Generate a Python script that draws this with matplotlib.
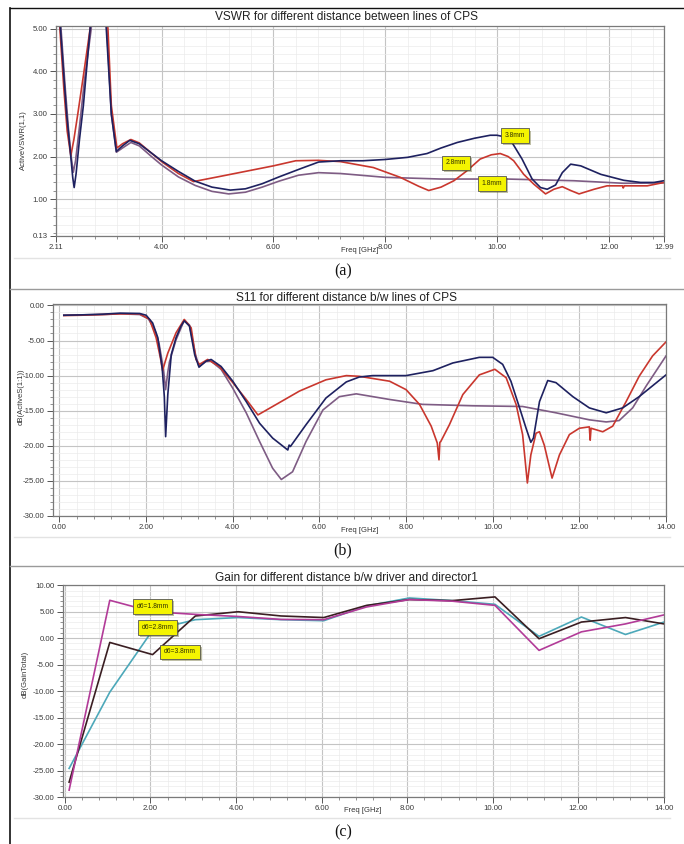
import numpy as np
import matplotlib
matplotlib.use("Agg")
import matplotlib.pyplot as plt
from matplotlib.ticker import MultipleLocator, FixedLocator
from matplotlib.lines import Line2D
import matplotlib.patheffects as pe

plt.rcParams['font.family'] = ['Liberation Sans', 'DejaVu Sans']

# ---- (a) VSWR  (values above 5 are clipped by the axis)
vswr_f_38 = [2.11, 2.19, 2.25, 2.30, 2.36, 2.41, 2.435, 2.47, 2.53, 2.60, 2.66, 2.72, 2.85, 3.01,
             3.10, 3.19, 3.30, 3.43, 3.60, 3.80, 4.00, 4.30, 4.60, 4.90, 5.23, 5.50, 5.80, 6.10,
             6.50, 6.81, 7.20, 7.60, 8.00, 8.40, 8.75, 9.00, 9.29, 9.60, 9.88, 10.00, 10.15,
             10.27, 10.45, 10.63, 10.78, 10.90, 11.05, 11.17, 11.32, 11.50, 11.86, 12.27, 12.57,
             12.81, 12.99]
vswr_38 = [7.0, 5.0, 3.9, 3.0, 2.2, 1.5, 1.27, 1.6, 2.4, 3.2, 4.1, 5.0, 8.0, 5.0,
           3.0, 2.12, 2.25, 2.38, 2.30, 2.10, 1.90, 1.65, 1.42, 1.28, 1.21, 1.24, 1.36, 1.52,
           1.72, 1.87, 1.90, 1.90, 1.93, 1.98, 2.07, 2.20, 2.33, 2.43, 2.50, 2.50, 2.46,
           2.33, 1.94, 1.47, 1.27, 1.23, 1.33, 1.62, 1.82, 1.78, 1.58, 1.44, 1.39,
           1.39, 1.43]

vswr_f_28 = [2.11, 2.18, 2.25, 2.31, 2.375, 2.43, 2.50, 2.60, 2.72, 2.85, 3.04, 3.10, 3.20, 3.30,
             3.45, 3.60, 3.80, 4.00, 4.30, 4.57, 5.00, 5.50, 6.00, 6.40, 6.80, 7.20, 7.79, 8.27,
             8.60, 8.78, 9.00, 9.23, 9.45, 9.70, 9.90, 10.06, 10.20, 10.30, 10.48, 10.66, 10.87,
             11.02, 11.17, 11.32, 11.47, 11.74, 11.97, 12.25, 12.26, 12.28, 12.69, 12.99]
vswr_28 = [7.0, 5.0, 3.6, 2.6, 2.02, 2.4, 3.0, 3.9, 5.0, 8.0, 5.0, 3.2, 2.2, 2.3,
           2.40, 2.32, 2.10, 1.88, 1.60, 1.41, 1.52, 1.65, 1.78, 1.90, 1.91, 1.88, 1.74, 1.51,
           1.30, 1.20, 1.28, 1.43, 1.65, 1.94, 2.04, 2.07, 2.00, 1.90, 1.58, 1.35, 1.12,
           1.23, 1.29, 1.20, 1.12, 1.23, 1.31, 1.31, 1.26, 1.31, 1.31, 1.39]

vswr_f_18 = [2.11, 2.20, 2.27, 2.33, 2.38, 2.42, 2.46, 2.53, 2.62, 2.74, 2.85, 3.02, 3.10, 3.19,
             3.30, 3.45, 3.60, 3.80, 4.00, 4.30, 4.60, 4.90, 5.20, 5.50, 5.80, 6.10, 6.45, 6.81,
             7.20, 8.00, 9.00, 10.18, 11.38, 12.27, 12.99]
vswr_18 = [7.0, 5.0, 3.7, 2.7, 2.0, 1.63, 1.9, 2.7, 3.8, 5.0, 8.0, 5.0, 3.0, 2.1,
           2.2, 2.33, 2.25, 2.02, 1.80, 1.52, 1.32, 1.18, 1.12, 1.16, 1.28, 1.42, 1.56, 1.62,
           1.60, 1.51, 1.47, 1.47, 1.43, 1.37, 1.38]

# ---- (b) S11 [dB]
s11_f_38 = [0.1, 0.5, 1.0, 1.4, 1.85, 2.0, 2.15, 2.27, 2.37, 2.42, 2.45, 2.5, 2.58, 2.69, 2.8,
            2.88, 3.0, 3.12, 3.22, 3.38, 3.5, 3.73, 4.0, 4.31, 4.62, 4.92, 5.27, 5.3, 5.33, 5.69,
            6.15, 6.62, 6.92, 7.23, 8.0, 8.62, 9.08, 9.69, 10.0, 10.23, 10.42, 10.62, 10.77,
            10.88, 10.94, 11.08, 11.27, 11.46, 11.85, 12.23, 12.62, 13.0, 13.38, 14.0]
s11_38 = [-1.4, -1.35, -1.25, -1.1, -1.15, -1.4, -2.5, -4.6, -8.9, -13.0, -18.7, -12.7, -7.0,
          -4.6, -3.0, -2.2, -2.95, -7.0, -8.8, -7.95, -7.7, -8.7, -10.8, -13.7, -16.8, -18.9,
          -20.6, -19.9, -20.1, -17.0, -13.2, -10.9, -10.2, -10.0, -10.0, -9.3, -8.2, -7.4,
          -7.4, -8.4, -10.8, -14.6, -17.5, -19.5, -18.9, -13.7, -10.7, -11.0, -13.0, -14.6,
          -15.3, -14.6, -13.0, -9.9]

s11_f_28 = [0.1, 0.5, 1.0, 1.4, 1.85, 2.08, 2.23, 2.33, 2.38, 2.44, 2.5, 2.69, 2.88, 3.04, 3.15,
            3.23, 3.42, 3.69, 4.0, 4.31, 4.58, 4.92, 5.54, 6.15, 6.62, 6.92, 7.62, 8.0, 8.31,
            8.58, 8.72, 8.76, 8.78, 8.8, 9.0, 9.31, 9.69, 10.05, 10.31, 10.54, 10.69, 10.8,
            10.88, 11.0, 11.08, 11.19, 11.37, 11.54, 11.77, 12.0, 12.23, 12.25, 12.27, 12.54,
            12.77, 13.08, 13.38, 13.69, 14.0]
s11_28 = [-1.45, -1.4, -1.3, -1.2, -1.2, -2.0, -4.6, -7.5, -9.3, -8.0, -6.8, -3.9, -2.0, -3.2,
          -7.7, -8.4, -7.7, -8.7, -11.0, -13.4, -15.6, -14.4, -12.2, -10.6, -10.0, -10.1,
          -10.8, -12.0, -14.1, -17.2, -19.6, -22.0, -19.5, -19.4, -17.0, -12.7, -9.9, -9.1,
          -10.3, -14.1, -18.4, -25.3, -21.3, -18.2, -18.0, -19.9, -24.6, -21.3, -18.4, -17.5,
          -17.3, -19.2, -17.5, -18.0, -17.2, -13.7, -10.1, -7.2, -5.2]

s11_f_18 = [0.1, 0.5, 1.0, 1.4, 1.85, 2.05, 2.2, 2.3, 2.4, 2.45, 2.5, 2.54, 2.69, 2.88, 3.0,
            3.14, 3.22, 3.38, 3.5, 3.73, 4.0, 4.31, 4.62, 4.92, 5.12, 5.38, 5.69, 6.08, 6.46,
            6.85, 7.62, 8.38, 9.54, 10.69, 11.46, 12.23, 12.62, 12.92, 13.23, 13.54, 14.0]
s11_18 = [-1.4, -1.35, -1.3, -1.2, -1.3, -1.9, -3.5, -5.5, -9.1, -12.0, -9.5, -8.0, -4.9, -2.1,
          -2.8, -7.0, -8.7, -8.0, -7.95, -9.1, -11.8, -15.3, -19.4, -23.2, -24.8, -23.7, -19.4,
          -14.9, -13.0, -12.6, -13.4, -14.1, -14.3, -14.4, -15.3, -16.3, -16.6, -16.4, -14.6,
          -11.5, -7.2]

# ---- (c) Gain [dB]
gain_f = [0.1, 1.05, 2.05, 3.05, 4.05, 5.05, 6.05, 7.05, 8.05, 9.05, 10.05, 11.08, 12.07, 13.1, 14.0]
gain_18 = [-28.7, 7.16, 5.0, 4.5, 4.1, 3.55, 3.5, 5.9, 7.3, 7.0, 6.2, -2.3, 1.2, 2.7, 4.4]
gain_28 = [-24.6, -10.2, 1.5, 3.5, 3.9, 3.5, 3.3, 6.1, 7.6, 7.1, 6.4, 0.35, 4.0, 0.7, 3.05]
gain_38 = [-27.2, -0.8, -3.1, 4.2, 5.0, 4.2, 3.9, 6.2, 7.3, 7.1, 7.8, -0.1, 3.05, 3.9, 2.7]

NAVY = '#1e2160'
RED = '#c9372e'
MAUVE = '#7e5c84'
MAG = '#b23b98'
CYAN = '#4ca8b9'
DARK = '#3a1e22'

W, H = 684, 844
fig = plt.figure(figsize=(W / 100, H / 100), dpi=100)
fig.patch.set_facecolor('white')


def px_axes(l, t, r, b):
    return fig.add_axes([l / W, 1 - b / H, (r - l) / W, (b - t) / H])


def style(ax, xmaj, xmin, ymaj, ymin):
    ax.xaxis.set_major_locator(xmaj)
    ax.xaxis.set_minor_locator(xmin)
    ax.yaxis.set_major_locator(ymaj)
    ax.yaxis.set_minor_locator(ymin)
    ax.xaxis.set_major_formatter(lambda v, p: '%.2f' % v)
    ax.yaxis.set_major_formatter(lambda v, p: '%.2f' % v)
    ax.grid(which='major', color='#c4c4c4', lw=0.8)
    ax.grid(which='minor', color='#ebebeb', lw=0.5)
    ax.set_axisbelow(True)
    for s in ax.spines.values():
        s.set_color('#7a7a7a')
        s.set_linewidth(0.9)
    ax.tick_params(which='major', direction='out', length=4, width=0.7, color='#555555',
                   labelsize=5.6, labelcolor='#3a3a3a', pad=2)
    ax.tick_params(which='minor', direction='out', length=2, width=0.5, color='#666666')
    ax.tick_params(top=False, right=False)


def tag(ax, x, y, s, fs=4.9):
    t = ax.text(x, y, s, fontsize=fs, color='#333300', ha='center', va='center', zorder=5,
                bbox=dict(boxstyle='square,pad=0.55', fc='#f4f400', ec='#555555', lw=0.6))
    t.get_bbox_patch().set_path_effects([pe.SimplePatchShadow(offset=(1.5, -1.5), alpha=0.35),
                                         pe.Normal()])


# ---------------- (a)
ax1 = px_axes(56, 26, 664, 236)
ax1.plot(vswr_f_18, vswr_18, color=MAUVE, lw=1.2)
ax1.plot(vswr_f_28, vswr_28, color=RED, lw=1.2)
ax1.plot(vswr_f_38, vswr_38, color=NAVY, lw=1.2)
ax1.set_xlim(2.11, 12.99)
ax1.set_ylim(0.13, 5.07)
style(ax1, FixedLocator([2.11, 4, 6, 8, 10, 12, 12.99]), MultipleLocator(0.4),
      FixedLocator([0.13, 1, 2, 3, 4, 5]), MultipleLocator(0.2))
tag(ax1, 10.33, 2.49, '3.8mm')
tag(ax1, 9.27, 1.85, '2.8mm')
tag(ax1, 9.91, 1.37, '1.8mm')

# ---------------- (b)
ax2 = px_axes(53, 304, 666, 516)
ax2.plot(s11_f_18, s11_18, color=MAUVE, lw=1.2)
ax2.plot(s11_f_28, s11_28, color=RED, lw=1.2)
ax2.plot(s11_f_38, s11_38, color=NAVY, lw=1.2)
ax2.set_xlim(-0.15, 14.0)
ax2.set_ylim(-30, 0.2)
style(ax2, MultipleLocator(2), MultipleLocator(0.4), MultipleLocator(5), MultipleLocator(1))

# ---------------- (c)
ax3 = px_axes(62.7, 585, 664, 797)
ax3.plot(gain_f, gain_28, color=CYAN, lw=1.2)
ax3.plot(gain_f, gain_38, color=DARK, lw=1.2)
ax3.plot(gain_f, gain_18, color=MAG, lw=1.2)
ax3.set_xlim(-0.05, 14.0)
ax3.set_ylim(-30, 10.05)
style(ax3, MultipleLocator(2), MultipleLocator(0.4), MultipleLocator(5), MultipleLocator(1))
tag(ax3, 2.05, 6.0, 'd6=1.8mm')
tag(ax3, 2.16, 2.0, 'd6=2.8mm')
tag(ax3, 2.69, -2.6, 'd6=3.8mm')

# titles, axis labels and captions in pixel positions
def ftxt(x, y, s, **kw):
    fig.text(x / W, 1 - y / H, s, ha='center', va='center', **kw)


ftxt(346, 17, 'VSWR for different distance between lines of CPS', fontsize=8.6, color='#222222')
ftxt(346, 298, 'S11 for different distance b/w lines of CPS', fontsize=8.6, color='#222222')
ftxt(346, 578, 'Gain for different distance b/w driver and director1', fontsize=8.6, color='#222222')

ftxt(360, 250, 'Freq [GHz]', fontsize=5.5, color='#333333')
ftxt(360, 530, 'Freq [GHz]', fontsize=5.5, color='#333333')
ftxt(363, 810, 'Freq [GHz]', fontsize=5.5, color='#333333')

ftxt(23, 140, 'ActiveVSWR(1,1)', fontsize=5.5, color='#333333', rotation=90)
ftxt(21, 397, 'dB(ActiveS(1:1))', fontsize=5.5, color='#333333', rotation=90)
ftxt(25, 674, 'dB(GainTotal)', fontsize=5.5, color='#333333', rotation=90)

serif = ['Liberation Serif', 'DejaVu Serif']
ftxt(343, 271, '(a)', fontsize=11.5, family=serif, color='#111111')
ftxt(343, 550, '(b)', fontsize=11.5, family=serif, color='#111111')
ftxt(343, 832, '(c)', fontsize=11.5, family=serif, color='#111111')

# screenshot frames
def fline(x0, y0, x1, y1, **kw):
    fig.add_artist(Line2D([x0 / W, x1 / W], [1 - y0 / H, 1 - y1 / H], **kw))


fline(10, 8, 10, 844, color='#111111', lw=1.2)
fline(10, 8, 684, 8, color='#111111', lw=1.0)
fline(10, 289, 684, 289, color='#9a9a9a', lw=1.0)
fline(10, 566, 684, 566, color='#9a9a9a', lw=1.0)
for yy in (258, 537, 818):
    fline(14, yy, 670, yy, color='#e3e3e3', lw=1.0)

fig.savefig('out.png', dpi=100)
